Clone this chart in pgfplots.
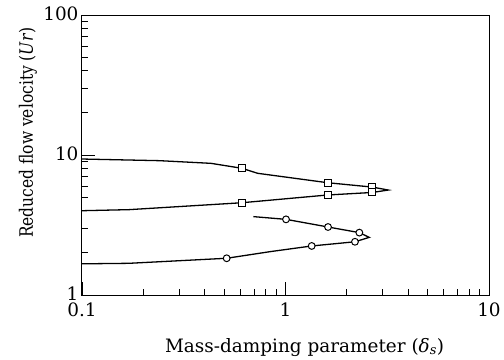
\documentclass[border=0pt]{standalone}
\usepackage{fontspec}
\setmainfont{DejaVu Serif}
\usepackage{graphicx}
\usepackage{pgfplots}
\pgfplotsset{compat=1.18}
\begin{document}
\begin{tikzpicture}
\useasboundingbox (-82bp,-65bp) rectangle (422bp,295bp);
\begin{axis}[
  at={(0,0)}, anchor=south west,
  scale only axis, width=407bp, height=280bp,
  xmode=log, ymode=log,
  xmin=0.1, xmax=10, ymin=1, ymax=100,
  tick pos=left, tick align=inside,
  xtick={0.1,1,10}, xticklabels={0.1,1,10},
  ytick={1,10,100}, yticklabels={1,10,100},
  major tick length=13bp, minor tick length=6.5bp,
  every tick/.style={black, line width=0.9pt},
  axis line style={line width=1pt},
  tick label style={font=\fontsize{18.5}{22}\selectfont},
  xticklabel style={yshift=-8bp, inner ysep=0pt},
  yticklabel style={inner ysep=0pt, yshift=1bp},
  xlabel={Mass-damping parameter (\textit{δ}\textsubscript{\textit{s}})},
  ylabel={\scalebox{0.84}[1]{Reduced flow velocity (\textit{Ur})}},
  label style={font=\fontsize{18.5}{22}\selectfont},
  xlabel style={at={(axis description cs:0.547,-0.2036)}, anchor=base},
  ylabel style={at={(axis description cs:-0.133,0.579)}, anchor=center},
]
% square curve
\addplot[black, line width=1.3pt] coordinates {
(0.1,9.36) (0.24,9.11) (0.43,8.72) (0.61,8.04) (0.73,7.40) (1.61,6.34)
(2.67,5.90) (3.20,5.62) (2.67,5.40) (1.61,5.18) (0.61,4.56) (0.17,4.07) (0.1,4.00)
};
\addplot[only marks, mark=square*, mark size=3.5bp, mark options={fill=white, draw=black, line width=1pt}] coordinates {
(0.61,8.04) (1.61,6.34) (2.67,5.90) (2.67,5.40) (1.61,5.18) (0.61,4.56)
};
% circle curve
\addplot[black, line width=1.3pt] coordinates {
(0.695,3.63) (1.006,3.47) (1.618,3.06) (2.306,2.79) (2.58,2.58) (2.195,2.40)
(1.345,2.24) (0.84,2.04) (0.514,1.83) (0.17,1.684) (0.1,1.67)
};
\addplot[only marks, mark=*, mark size=3.4bp, mark options={fill=white, draw=black, line width=1pt}] coordinates {
(0.514,1.83) (1.345,2.24) (2.195,2.40) (2.306,2.79) (1.618,3.06) (1.006,3.47)
};
\end{axis}
\end{tikzpicture}
\end{document}
